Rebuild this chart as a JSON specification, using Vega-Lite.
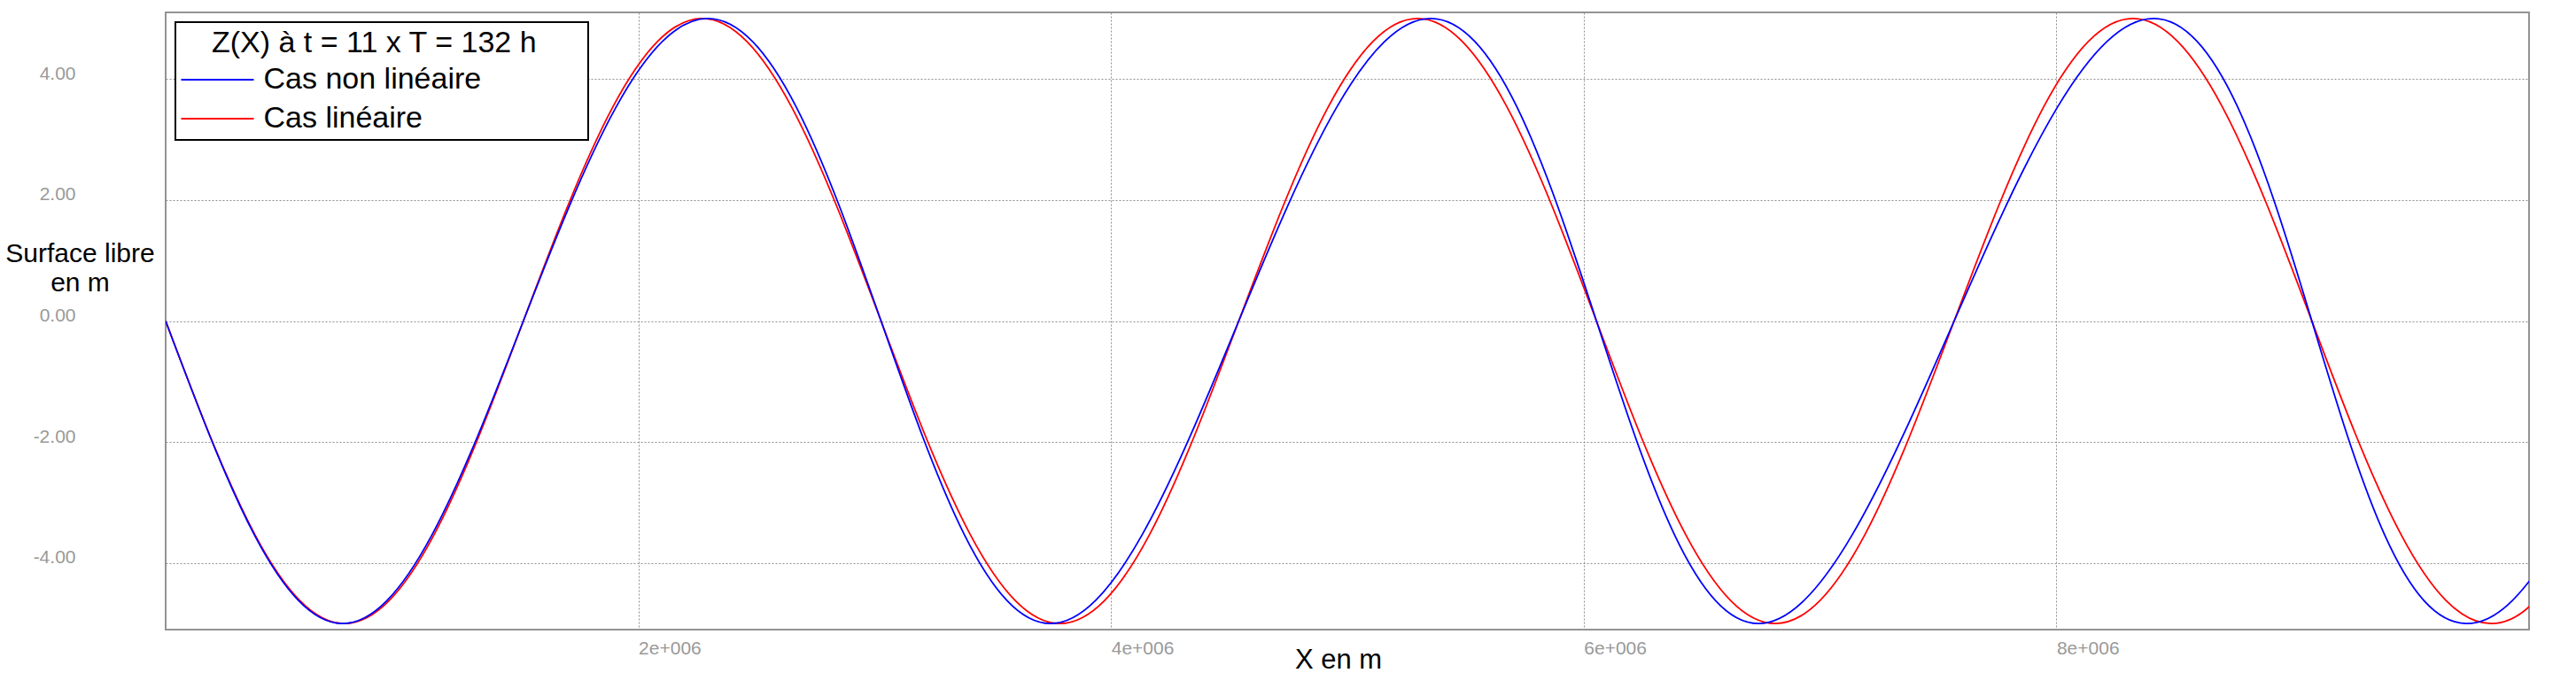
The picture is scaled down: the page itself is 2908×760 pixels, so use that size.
{
  "$schema": "https://vega.github.io/schema/vega-lite/v6.json",
  "width": 2668,
  "height": 697,
  "autosize": {"type": "none"},
  "padding": {"left": 187, "top": 14, "right": 53, "bottom": 49},
  "background": "white",
  "config": {
    "view": {"stroke": "#939393", "strokeWidth": 2},
    "font": "Liberation Sans",
    "legend": {"strokeWidth": 2}
  },
  "datasets": {
    "lineaire": [
      {"x": 0, "z": 0}, {"x": 189188, "z": -1.913}, {"x": 378375, "z": -3.536}, {"x": 567563, "z": -4.619},
      {"x": 756750, "z": -5}, {"x": 945938, "z": -4.619}, {"x": 1135125, "z": -3.536}, {"x": 1324313, "z": -1.913},
      {"x": 1513500, "z": 0}, {"x": 1702688, "z": 1.913}, {"x": 1891875, "z": 3.536}, {"x": 2081063, "z": 4.619},
      {"x": 2270250, "z": 5}, {"x": 2459438, "z": 4.619}, {"x": 2648625, "z": 3.536}, {"x": 2837813, "z": 1.913},
      {"x": 3027000, "z": 0}, {"x": 3216188, "z": -1.913}, {"x": 3405375, "z": -3.536}, {"x": 3594563, "z": -4.619},
      {"x": 3783750, "z": -5}, {"x": 3972938, "z": -4.619}, {"x": 4162125, "z": -3.536}, {"x": 4351313, "z": -1.913},
      {"x": 4540500, "z": 0}, {"x": 4729688, "z": 1.913}, {"x": 4918875, "z": 3.536}, {"x": 5108063, "z": 4.619},
      {"x": 5297250, "z": 5}, {"x": 5486438, "z": 4.619}, {"x": 5675625, "z": 3.536}, {"x": 5864813, "z": 1.913},
      {"x": 6054000, "z": 0}, {"x": 6243188, "z": -1.913}, {"x": 6432375, "z": -3.536}, {"x": 6621563, "z": -4.619},
      {"x": 6810750, "z": -5}, {"x": 6999938, "z": -4.619}, {"x": 7189125, "z": -3.536}, {"x": 7378313, "z": -1.913},
      {"x": 7567500, "z": 0}, {"x": 7756688, "z": 1.913}, {"x": 7945875, "z": 3.536}, {"x": 8135063, "z": 4.619},
      {"x": 8324250, "z": 5}, {"x": 8513438, "z": 4.619}, {"x": 8702625, "z": 3.536}, {"x": 8891813, "z": 1.913},
      {"x": 9081000, "z": 0}, {"x": 9270188, "z": -1.913}, {"x": 9459375, "z": -3.536}, {"x": 9648563, "z": -4.619},
      {"x": 9837750, "z": -5}, {"x": 10026938, "z": -4.619}, {"x": 10216125, "z": -3.536}
    ],
    "nonlineaire": [
      {"x": 0, "z": 0}, {"x": 188427, "z": -1.913}, {"x": 375566, "z": -3.536}, {"x": 562057, "z": -4.619},
      {"x": 748804, "z": -5}, {"x": 936761, "z": -4.619}, {"x": 1126697, "z": -3.536}, {"x": 1318991, "z": -1.913},
      {"x": 1513500, "z": 0}, {"x": 1709529, "z": 1.913}, {"x": 1905921, "z": 3.536}, {"x": 2101250, "z": 4.619},
      {"x": 2294088, "z": 5}, {"x": 2483296, "z": 4.619}, {"x": 2668290, "z": 3.536}, {"x": 2849215, "z": 1.913},
      {"x": 3027000, "z": 0}, {"x": 3203265, "z": -1.913}, {"x": 3380092, "z": -3.536}, {"x": 3559693, "z": -4.619},
      {"x": 3744021, "z": -5}, {"x": 3934397, "z": -4.619}, {"x": 4131223, "z": -3.536}, {"x": 4333829, "z": -1.913},
      {"x": 4540500, "z": 0}, {"x": 4748692, "z": 1.913}, {"x": 4955396, "z": 3.536}, {"x": 5157615, "z": 4.619},
      {"x": 5352871, "z": 5}, {"x": 5539660, "z": 4.619}, {"x": 5717764, "z": 3.536}, {"x": 5888378, "z": 1.913},
      {"x": 6054000, "z": 0}, {"x": 6218102, "z": -1.913}, {"x": 6384617, "z": -3.536}, {"x": 6557329, "z": -4.619},
      {"x": 6739237, "z": -5}, {"x": 6932034, "z": -4.619}, {"x": 7135749, "z": -3.536}, {"x": 7348666, "z": -1.913},
      {"x": 7567500, "z": 0}, {"x": 7787855, "z": 1.913}, {"x": 8004870, "z": 3.536}, {"x": 8213979, "z": 4.619},
      {"x": 8411655, "z": 5}, {"x": 8596024, "z": 4.619}, {"x": 8767238, "z": 3.536}, {"x": 8927541, "z": 1.913},
      {"x": 9081000, "z": 0}, {"x": 9232939, "z": -1.913}, {"x": 9389143, "z": -3.536}, {"x": 9554965, "z": -4.619},
      {"x": 9734454, "z": -5}, {"x": 9929670, "z": -4.619}, {"x": 10140274, "z": -3.536}
    ]
  },
  "layer": [
    {
      "data": {"name": "lineaire"},
      "mark": {"type": "line", "interpolate": "natural", "clip": true, "strokeWidth": 1.8},
      "encoding": {
        "x": {
          "field": "x", "type": "quantitative",
          "scale": {"domain": [0, 10000000], "nice": false, "zero": false},
          "axis": {
            "title": "X en m",
            "values": [2000000, 4000000, 6000000, 8000000],
            "labelExpr": "(datum.value / 1000000) + 'e+006'",
            "grid": true, "gridColor": "#8f8f8f", "gridDash": [2, 2], "gridWidth": 1,
            "domain": false, "ticks": false, "tickSize": 0,
            "labelAlign": "left", "labelBaseline": "top", "labelPadding": 10,
            "labelFont": "Liberation Sans", "labelFontSize": 21, "labelColor": "#999999",
            "labelFlush": false, "labelOverlap": false,
            "titleFont": "Liberation Sans", "titleFontSize": 31, "titleFontWeight": "normal", "titleColor": "black",
            "titleX": 1323.5, "titleY": 43, "titleAlign": "center", "titleBaseline": "alphabetic"
          }
        },
        "y": {
          "field": "z", "type": "quantitative",
          "scale": {"domain": [-5.1, 5.1], "nice": false, "zero": false},
          "axis": {
            "title": ["Surface libre", "en m"],
            "values": [-4, -2, 0, 2, 4],
            "labelExpr": "datum.value < 0 ? '-' + format(-datum.value, '.2f') : format(datum.value, '.2f')",
            "grid": true, "gridColor": "#8f8f8f", "gridDash": [2, 2], "gridWidth": 1,
            "domain": false, "ticks": false, "tickSize": 0,
            "labelAlign": "right", "labelBaseline": "alphabetic", "labelPadding": 102,
            "labelFont": "Liberation Sans", "labelFontSize": 21, "labelColor": "#999999",
            "labelFlush": false, "labelOverlap": false,
            "titleFont": "Liberation Sans", "titleFontSize": 30, "titleFontWeight": "normal", "titleColor": "black",
            "titleAngle": 0, "titleAlign": "center", "titleBaseline": "alphabetic", "titleLineHeight": 33,
            "titleX": -97, "titleY": 281
          }
        },
        "color": {
          "datum": "Cas linéaire", "type": "nominal",
          "scale": {"domain": ["Cas non linéaire", "Cas linéaire"], "range": ["#0000ff", "#ff0000"]},
          "legend": {
            "title": "\u2800 Z(X) à t = 11 x T = 132 h\u2800\u2800",
            "orient": "top-left", "offset": 11, "padding": 6.5,
            "strokeColor": "black", "fillColor": "white",
            "titleFont": "Liberation Sans", "titleFontSize": 34, "titleFontWeight": "normal", "titleColor": "black",
            "titleAnchor": "start", "titlePadding": 7.5, "titleLimit": 1000,
            "labelFont": "Liberation Sans", "labelFontSize": 34, "labelColor": "black", "labelLimit": 1000,
            "labelOffset": 35,
            "symbolType": "M-4.1,0H4.1", "symbolSize": 400, "symbolStrokeWidth": 2, "symbolOffset": 24,
            "rowPadding": 10
          }
        }
      }
    },
    {
      "data": {"name": "nonlineaire"},
      "mark": {"type": "line", "interpolate": "natural", "clip": true, "strokeWidth": 1.8},
      "encoding": {
        "x": {"field": "x", "type": "quantitative"},
        "y": {"field": "z", "type": "quantitative"},
        "color": {"datum": "Cas non linéaire", "type": "nominal"}
      }
    }
  ]
}
